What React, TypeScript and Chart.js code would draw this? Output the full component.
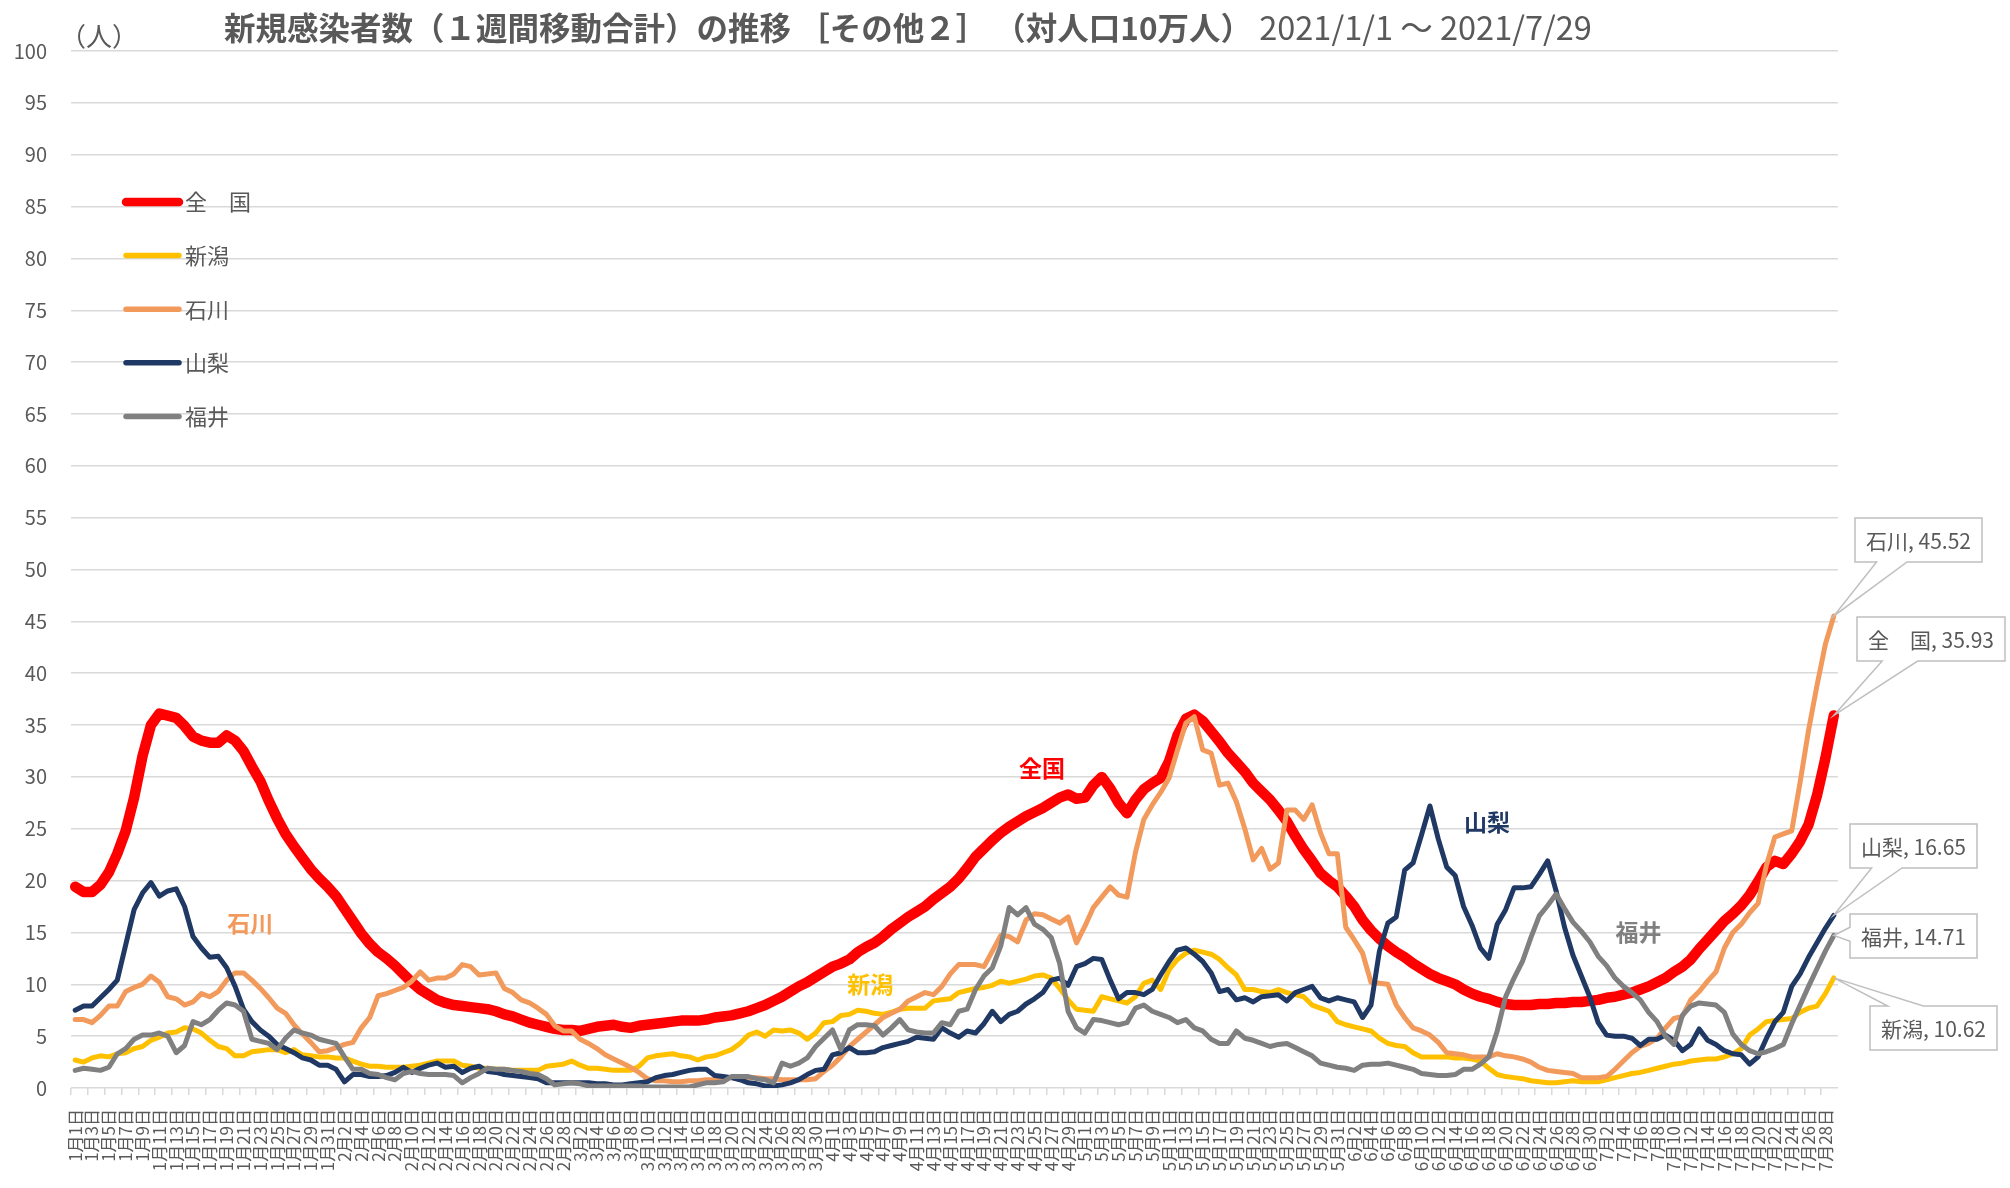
import React, { useEffect, useRef } from 'react';
import { Chart, registerables } from 'chart.js';

Chart.register(...registerables);

// ---------- data ----------
const MONTH_DAYS = [31, 28, 31, 30, 31, 30, 29];
const CATEGORIES: string[] = MONTH_DAYS.flatMap((n, m) =>
  Array.from({ length: n }, (_, d) => `${m + 1}月${d + 1}日`)
);

const SERIES_NAMES = ['全　国', '新潟', '石川', '山梨', '福井'];
const SERIES_COLORS = ['#FF0000', '#FFC000', '#F2995C', '#1F3864', '#808080'];

const NATIONAL = [
  19.4, 18.9, 18.9, 19.6, 20.8, 22.6, 24.8, 28.0, 32.0, 35.0, 36.1, 35.9, 35.7, 34.9, 33.9, 33.5, 33.3, 33.3, 34.0, 33.5, 32.5, 31.0, 29.6, 27.7, 26.0, 24.5, 23.3, 22.2, 21.1, 20.2, 19.4,
  18.5, 17.3, 16.1, 14.9, 13.9, 13.1, 12.5, 11.8, 11.0, 10.2, 9.5, 9.0, 8.5, 8.2, 8.0, 7.9, 7.8, 7.7, 7.6, 7.4, 7.1, 6.9, 6.6, 6.3, 6.1, 5.9, 5.7, 5.6,
  5.6, 5.5, 5.7, 5.9, 6.0, 6.1, 5.9, 5.8, 6.0, 6.1, 6.2, 6.3, 6.4, 6.5, 6.5, 6.5, 6.6, 6.8, 6.9, 7.0, 7.2, 7.4, 7.7, 8.0, 8.4, 8.8, 9.3, 9.8, 10.2, 10.7, 11.2,
  11.7, 12.0, 12.4, 13.1, 13.6, 14.0, 14.6, 15.3, 15.9, 16.5, 17.0, 17.5, 18.2, 18.8, 19.4, 20.2, 21.2, 22.3, 23.1, 23.9, 24.6, 25.2, 25.7, 26.2, 26.6, 27.0, 27.5, 28.0, 28.3, 27.9,
  28.0, 29.2, 30.0, 28.9, 27.5, 26.5, 27.8, 28.8, 29.4, 29.9, 31.5, 34.0, 35.6, 36.0, 35.4, 34.4, 33.4, 32.3, 31.4, 30.5, 29.4, 28.6, 27.8, 26.8, 25.7, 24.3, 23.0, 21.9, 20.7, 20.0, 19.4,
  18.5, 17.5, 16.2, 15.2, 14.4, 13.7, 13.1, 12.6, 12.0, 11.5, 11.0, 10.6, 10.3, 10.0, 9.5, 9.1, 8.8, 8.6, 8.3, 8.1, 8.0, 8.0, 8.0, 8.1, 8.1, 8.2, 8.2, 8.3, 8.3, 8.4,
  8.5, 8.7, 8.8, 9.0, 9.2, 9.5, 9.8, 10.2, 10.6, 11.2, 11.7, 12.4, 13.4, 14.3, 15.2, 16.1, 16.8, 17.6, 18.6, 19.9, 21.3, 21.9, 21.6, 22.6, 23.8, 25.4, 28.2, 31.8, 35.93,
];

const NIIGATA = [
  2.7, 2.5, 2.9, 3.1, 3.0, 3.3, 3.4, 3.8, 4.0, 4.6, 4.9, 5.3, 5.4, 5.8, 5.7, 5.3, 4.6, 4.0, 3.8, 3.1, 3.1, 3.5, 3.6, 3.7, 3.7, 3.4, 3.7, 3.2, 3.1, 3.0, 3.0,
  2.9, 2.9, 2.6, 2.3, 2.1, 2.1, 2.0, 2.0, 2.0, 2.1, 2.2, 2.4, 2.6, 2.6, 2.6, 2.2, 2.1, 1.9, 1.9, 1.8, 1.8, 1.7, 1.7, 1.7, 1.7, 2.1, 2.2, 2.3,
  2.6, 2.2, 1.9, 1.9, 1.8, 1.7, 1.7, 1.7, 2.1, 2.9, 3.1, 3.2, 3.3, 3.1, 3.0, 2.7, 3.0, 3.1, 3.4, 3.7, 4.3, 5.1, 5.4, 5.0, 5.6, 5.5, 5.6, 5.3, 4.7, 5.3, 6.3,
  6.4, 7.0, 7.1, 7.5, 7.4, 7.2, 7.1, 7.3, 7.6, 7.7, 7.7, 7.7, 8.4, 8.5, 8.6, 9.2, 9.4, 9.6, 9.7, 9.9, 10.3, 10.1, 10.3, 10.5, 10.8, 10.9, 10.6, 9.6, 8.5, 7.6,
  7.5, 7.4, 8.8, 8.6, 8.4, 8.2, 8.8, 10.1, 10.4, 9.5, 11.4, 12.4, 13.0, 13.3, 13.1, 12.9, 12.4, 11.6, 10.9, 9.5, 9.5, 9.3, 9.2, 9.5, 9.2, 9.0, 8.8, 8.0, 7.7, 7.4, 6.4,
  6.1, 5.9, 5.7, 5.5, 4.8, 4.3, 4.1, 4.0, 3.4, 3.0, 3.0, 3.0, 3.0, 2.9, 2.9, 2.8, 2.6, 1.9, 1.3, 1.1, 1.0, 0.9, 0.7, 0.6, 0.5, 0.5, 0.6, 0.7, 0.6, 0.6,
  0.6, 0.8, 1.0, 1.2, 1.4, 1.5, 1.7, 1.9, 2.1, 2.3, 2.4, 2.6, 2.7, 2.8, 2.8, 3.0, 3.3, 3.8, 5.1, 5.7, 6.4, 6.5, 6.6, 6.7, 7.3, 7.7, 7.9, 9.1, 10.62,
];

const ISHIKAWA = [
  6.6, 6.6, 6.3, 7.0, 7.9, 7.9, 9.3, 9.7, 10.0, 10.8, 10.2, 8.8, 8.6, 8.0, 8.3, 9.1, 8.8, 9.3, 10.4, 11.1, 11.1, 10.4, 9.6, 8.7, 7.7, 7.2, 6.1, 5.2, 4.4, 3.5, 3.6,
  3.9, 4.2, 4.4, 5.8, 6.8, 8.9, 9.1, 9.4, 9.7, 10.3, 11.2, 10.4, 10.6, 10.6, 11.0, 11.9, 11.7, 10.9, 11.0, 11.1, 9.6, 9.2, 8.5, 8.2, 7.7, 7.1, 6.0, 5.5,
  5.5, 4.7, 4.3, 3.8, 3.2, 2.8, 2.4, 2.0, 1.5, 0.9, 0.7, 0.7, 0.6, 0.6, 0.7, 0.7, 0.8, 0.8, 0.9, 1.0, 1.0, 1.0, 1.0, 0.9, 0.9, 0.8, 0.8, 0.8, 0.8, 0.9, 1.6,
  2.2, 3.0, 4.0, 4.7, 5.4, 6.1, 6.8, 7.2, 7.6, 8.4, 8.8, 9.2, 9.0, 9.8, 11.0, 11.9, 11.9, 11.9, 11.7, 13.2, 14.7, 14.6, 14.1, 16.2, 16.8, 16.7, 16.3, 15.9, 16.5, 14.0,
  15.6, 17.4, 18.4, 19.4, 18.6, 18.4, 22.7, 25.9, 27.3, 28.5, 29.9, 32.6, 35.2, 35.8, 32.6, 32.3, 29.2, 29.4, 27.6, 25.0, 22.0, 23.1, 21.1, 21.7, 26.8, 26.8, 25.9, 27.3, 24.6, 22.6, 22.6,
  15.5, 14.3, 13.0, 10.2, 10.1, 10.0, 8.0, 6.8, 5.8, 5.5, 5.1, 4.4, 3.4, 3.3, 3.2, 3.0, 3.0, 3.0, 3.3, 3.1, 3.0, 2.8, 2.5, 2.0, 1.7, 1.6, 1.5, 1.4, 1.0, 1.0,
  1.0, 1.1, 1.8, 2.6, 3.4, 4.0, 4.3, 4.8, 5.8, 6.7, 6.9, 8.5, 9.3, 10.3, 11.2, 13.5, 15.0, 15.8, 16.9, 17.8, 21.5, 24.2, 24.5, 24.8, 29.5, 34.5, 38.8, 42.8, 45.52,
];

const YAMANASHI = [
  7.5, 7.9, 7.9, 8.7, 9.5, 10.4, 13.8, 17.2, 18.8, 19.8, 18.5, 19.0, 19.2, 17.5, 14.6, 13.5, 12.6, 12.7, 11.6, 9.8, 7.6, 6.4, 5.6, 5.0, 4.2, 3.8, 3.4, 2.9, 2.7, 2.2, 2.2,
  1.8, 0.6, 1.3, 1.3, 1.1, 1.1, 1.2, 1.5, 2.0, 1.5, 1.9, 2.2, 2.4, 2.0, 2.1, 1.5, 1.9, 2.1, 1.6, 1.5, 1.3, 1.2, 1.1, 1.0, 0.9, 0.5, 0.5, 0.5,
  0.5, 0.5, 0.5, 0.4, 0.4, 0.3, 0.3, 0.4, 0.5, 0.6, 1.0, 1.2, 1.3, 1.5, 1.7, 1.8, 1.8, 1.2, 1.1, 1.0, 0.8, 0.5, 0.4, 0.2, 0.2, 0.3, 0.5, 0.8, 1.3, 1.7, 1.8,
  3.2, 3.4, 3.9, 3.4, 3.4, 3.5, 3.9, 4.1, 4.3, 4.5, 4.9, 4.8, 4.7, 5.8, 5.3, 4.9, 5.5, 5.3, 6.2, 7.4, 6.4, 7.1, 7.4, 8.1, 8.6, 9.2, 10.4, 10.6, 9.9, 11.7,
  12.0, 12.5, 12.4, 10.4, 8.6, 9.2, 9.2, 9.0, 9.5, 10.9, 12.2, 13.3, 13.5, 12.9, 12.2, 11.1, 9.3, 9.5, 8.5, 8.7, 8.3, 8.8, 8.9, 9.0, 8.4, 9.2, 9.5, 9.8, 8.7, 8.4, 8.7,
  8.5, 8.3, 6.8, 8.0, 13.2, 15.9, 16.5, 21.0, 21.7, 24.4, 27.2, 24.0, 21.3, 20.5, 17.5, 15.7, 13.5, 12.5, 15.8, 17.2, 19.3, 19.3, 19.4, 20.6, 21.9, 19.0, 15.5, 12.8, 10.8, 8.8,
  6.3, 5.1, 5.0, 5.0, 4.8, 4.1, 4.7, 4.7, 5.1, 4.6, 3.6, 4.2, 5.7, 4.6, 4.2, 3.6, 3.3, 3.2, 2.3, 3.0, 4.8, 6.4, 7.3, 9.8, 11.0, 12.6, 14.0, 15.4, 16.65,
];

const FUKUI = [
  1.7, 1.9, 1.8, 1.7, 2.0, 3.3, 3.8, 4.7, 5.1, 5.1, 5.3, 5.0, 3.4, 4.1, 6.4, 6.1, 6.6, 7.5, 8.2, 8.0, 7.4, 4.7, 4.5, 4.3, 3.7, 4.8, 5.6, 5.3, 5.1, 4.7, 4.5,
  4.3, 3.0, 1.8, 1.8, 1.4, 1.3, 1.0, 0.8, 1.4, 1.6, 1.4, 1.3, 1.3, 1.3, 1.2, 0.5, 1.0, 1.4, 1.9, 1.8, 1.8, 1.7, 1.6, 1.4, 1.3, 0.9, 0.3, 0.4,
  0.5, 0.4, 0.2, 0.2, 0.2, 0.2, 0.2, 0.2, 0.2, 0.1, 0.1, 0.1, 0.1, 0.1, 0.1, 0.3, 0.5, 0.5, 0.6, 1.1, 1.1, 1.1, 0.9, 0.8, 0.5, 2.4, 2.1, 2.4, 2.9, 4.0, 4.8,
  5.6, 3.7, 5.6, 6.1, 6.1, 6.0, 5.1, 5.8, 6.6, 5.6, 5.4, 5.3, 5.3, 6.3, 6.1, 7.4, 7.6, 9.5, 10.8, 11.6, 13.7, 17.4, 16.7, 17.4, 15.8, 15.3, 14.5, 12.0, 7.4, 5.8,
  5.3, 6.6, 6.5, 6.3, 6.1, 6.3, 7.7, 8.0, 7.4, 7.1, 6.8, 6.3, 6.6, 5.8, 5.5, 4.7, 4.3, 4.3, 5.5, 4.8, 4.6, 4.3, 4.0, 4.2, 4.3, 3.9, 3.5, 3.1, 2.4, 2.2, 2.0,
  1.9, 1.7, 2.2, 2.3, 2.3, 2.4, 2.2, 2.0, 1.8, 1.4, 1.3, 1.2, 1.2, 1.3, 1.8, 1.8, 2.3, 3.0, 5.5, 8.8, 10.6, 12.2, 14.5, 16.6, 17.6, 18.7, 17.3, 16.0, 15.1, 14.1,
  12.7, 11.8, 10.6, 9.8, 9.2, 8.5, 7.3, 6.4, 5.0, 4.2, 7.0, 7.9, 8.2, 8.1, 8.0, 7.3, 5.2, 4.2, 3.6, 3.3, 3.5, 3.8, 4.2, 6.2, 8.0, 9.8, 11.5, 13.2, 14.71,
];

const SERIES_VALUES = [NATIONAL, NIIGATA, ISHIKAWA, YAMANASHI, FUKUI];
const SERIES_WIDTHS = [10.5, 5, 5, 5, 5];

const Y_MIN = 0;
const Y_MAX = 100;
const Y_STEP = 5;

const TITLE_PARTS = [
  { text: '新規感染者数（１週間移動合計）の推移 ［その他２］', bold: true, size: 31.5 },
  { text: ' （対人口10万人）', bold: true, size: 31.5 },
  { text: ' 2021/1/1 ～ 2021/7/29', bold: false, size: 32.5 },
];
const UNIT_LABEL = '（人）';

// inline series names: (category position, value) anchors
const INLINE_LABELS = [
  { text: '全国', series: 0, at: 114.9, value: 30.8 },
  { text: '新潟', series: 1, at: 94.5, value: 10.0 },
  { text: '石川', series: 2, at: 20.8, value: 15.9 },
  { text: '山梨', series: 3, at: 167.8, value: 25.6 },
  { text: '福井', series: 4, at: 185.8, value: 15.0 },
];

// ---------- styling / layout ----------
const FONT = '"Noto Sans CJK JP", "Noto Sans", sans-serif';
const TEXT_GREY = '#595959';
const GRID_GREY = '#d9d9d9';

const CALLOUTS = [
  { series: 2, left: 1855, top: 518, side: 'bottom' },
  { series: 0, left: 1857, top: 617, side: 'bottom' },
  { series: 3, left: 1850, top: 824, side: 'bottom' },
  { series: 4, left: 1850, top: 914, side: 'left' },
  { series: 1, left: 1870, top: 1006, side: 'top' },
];

const overlayPlugin = {
  id: 'overlay',
  afterDatasetsDraw(chart: any) {
    const ctx = chart.ctx as CanvasRenderingContext2D;
    const xs = chart.scales.x;
    const ys = chart.scales.y;
    ctx.save();
    ctx.font = `bold 23px ${FONT}`;
    ctx.textAlign = 'center';
    ctx.textBaseline = 'middle';
    INLINE_LABELS.forEach((l) => {
      ctx.fillStyle = SERIES_COLORS[l.series];
      ctx.fillText(l.text, xs.getPixelForValue(l.at), ys.getPixelForValue(l.value));
    });
    ctx.restore();
  },
  afterDraw(chart: any) {
    const ctx = chart.ctx as CanvasRenderingContext2D;
    const xs = chart.scales.x;
    const ys = chart.scales.y;
    ctx.save();

    // title
    let x = 224;
    ctx.textBaseline = 'middle';
    ctx.textAlign = 'left';
    ctx.fillStyle = TEXT_GREY;
    TITLE_PARTS.forEach((p) => {
      ctx.font = `${p.bold ? 'bold ' : ''}${p.size}px ${FONT}`;
      ctx.fillText(p.text, x, 28);
      x += ctx.measureText(p.text).width;
    });

    // unit
    ctx.font = `26px ${FONT}`;
    ctx.fillText(UNIT_LABEL, 60, 36);

    // legend
    ctx.font = `22px ${FONT}`;
    SERIES_NAMES.forEach((name, i) => {
      const y = 202 + i * 53.6;
      ctx.strokeStyle = SERIES_COLORS[i];
      ctx.lineWidth = i === 0 ? 8.5 : 5.5;
      ctx.lineCap = 'round';
      ctx.beginPath();
      ctx.moveTo(126, y);
      ctx.lineTo(179, y);
      ctx.stroke();
      ctx.fillStyle = TEXT_GREY;
      ctx.fillText(name, 185, y);
    });

    // callouts
    const last = CATEGORIES.length - 1;
    ctx.font = `21px ${FONT}`;
    CALLOUTS.forEach((c) => {
      const v = SERIES_VALUES[c.series][last];
      const text = `${SERIES_NAMES[c.series]}, ${v.toFixed(2)}`;
      const w = ctx.measureText(text).width + 22;
      const h = 44;
      const l = c.left, t = c.top, r = l + w, b = t + h;
      const px = xs.getPixelForValue(last);
      const py = ys.getPixelForValue(v);
      ctx.beginPath();
      if (c.side === 'bottom') {
        ctx.moveTo(l, t); ctx.lineTo(r, t); ctx.lineTo(r, b);
        ctx.lineTo(l + 0.41 * w, b); ctx.lineTo(px, py); ctx.lineTo(l + 0.17 * w, b);
        ctx.lineTo(l, b); ctx.closePath();
      } else if (c.side === 'top') {
        ctx.moveTo(l, t); ctx.lineTo(l + 0.14 * w, t); ctx.lineTo(px, py);
        ctx.lineTo(l + 0.42 * w, t); ctx.lineTo(r, t); ctx.lineTo(r, b);
        ctx.lineTo(l, b); ctx.closePath();
      } else {
        ctx.moveTo(l, t); ctx.lineTo(r, t); ctx.lineTo(r, b); ctx.lineTo(l, b);
        ctx.lineTo(l, t + 0.62 * h); ctx.lineTo(px, py); ctx.lineTo(l, t + 0.3 * h);
        ctx.closePath();
      }
      ctx.fillStyle = '#ffffff';
      ctx.fill();
      ctx.strokeStyle = '#bfbfbf';
      ctx.lineWidth = 1.5;
      ctx.lineJoin = 'miter';
      ctx.stroke();
      ctx.fillStyle = TEXT_GREY;
      ctx.textAlign = 'left';
      ctx.textBaseline = 'middle';
      ctx.fillText(text, l + 11, t + h / 2 + 1);
    });

    ctx.restore();
  },
};

export default function App() {
  const ref = useRef<HTMLCanvasElement | null>(null);

  useEffect(() => {
    if (!ref.current) return;
    const order = [5, 4, 3, 2, 1];
    const chart = new Chart(ref.current, {
      type: 'line',
      data: {
        labels: CATEGORIES,
        datasets: SERIES_VALUES.map((vals, i) => ({
          label: SERIES_NAMES[i],
          data: vals,
          borderColor: SERIES_COLORS[i],
          backgroundColor: SERIES_COLORS[i],
          borderWidth: SERIES_WIDTHS[i],
          pointRadius: 0,
          pointHoverRadius: 0,
          tension: 0,
          fill: false,
          borderJoinStyle: 'round',
          borderCapStyle: 'round',
          order: order[i],
        })),
      },
      options: {
        responsive: false,
        maintainAspectRatio: false,
        animation: false,
        devicePixelRatio: 1,
        events: [],
        layout: { padding: { top: 51, right: 172, bottom: 0, left: 0 } },
        plugins: {
          legend: { display: false },
          title: { display: false },
          tooltip: { enabled: false },
        },
        scales: {
          x: {
            type: 'category',
            offset: true,
            border: { display: false },
            grid: {
              offset: true,
              drawOnChartArea: false,
              drawTicks: true,
              tickLength: 7,
              lineWidth: 1.5,
              color: (c: any) => (c.index % 2 === 0 ? GRID_GREY : 'rgba(0,0,0,0)'),
            },
            ticks: {
              autoSkip: false,
              maxRotation: 90,
              minRotation: 90,
              padding: 14,
              color: TEXT_GREY,
              font: { family: FONT, size: 17 },
              callback: function (this: any, val: any, idx: number) {
                return idx % 2 === 0 ? this.getLabelForValue(val) : '';
              },
            },
            afterFit: (s: any) => {
              s.height = 100;
            },
          },
          y: {
            min: Y_MIN,
            max: Y_MAX,
            border: { display: false },
            grid: { color: GRID_GREY, lineWidth: 1.5, drawTicks: false },
            ticks: {
              stepSize: Y_STEP,
              padding: 24,
              color: TEXT_GREY,
              font: { family: FONT, size: 20 },
            },
            afterFit: (s: any) => {
              s.width = 71;
            },
          },
        },
      },
      plugins: [overlayPlugin],
    } as any);
    return () => chart.destroy();
  }, []);

  return (
    <div style={{ position: 'fixed', left: 0, top: 0, width: 2010, height: 1188, background: '#ffffff' }}>
      <canvas ref={ref} width={2010} height={1188} style={{ width: 2010, height: 1188, display: 'block' }} />
    </div>
  );
}
